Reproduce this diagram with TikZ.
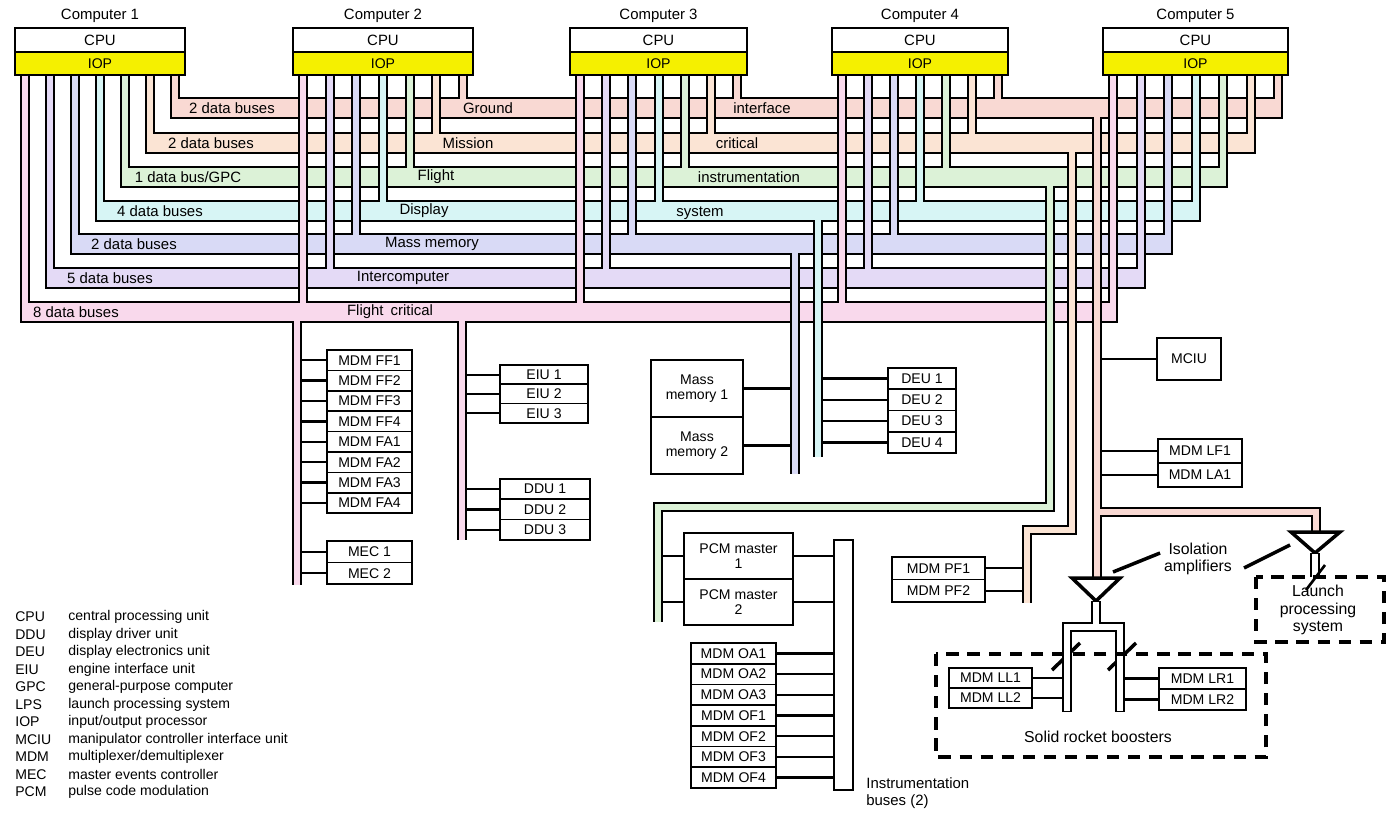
\documentclass[tikz,border=0pt]{standalone}
\usepackage{fontspec}
\setmainfont{Liberation Sans}
\usetikzlibrary{positioning}

\definecolor{busGI}{HTML}{F9D9D3}
\definecolor{busMC}{HTML}{FBE4D4}
\definecolor{busFI}{HTML}{DCF2D7}
\definecolor{busDS}{HTML}{D7F5F5}
\definecolor{busMM}{HTML}{D9DAF6}
\definecolor{busIC}{HTML}{E4DAF6}
\definecolor{busFC}{HTML}{F9D9EC}
\definecolor{iopyellow}{HTML}{F5F000}

\tikzset{
  box/.style={draw, line width=1pt, fill=white, inner sep=0pt, align=center,
    font=\fontsize{8}{8.5}\selectfont},
  lbl/.style={inner sep=1pt, font=\fontsize{8.5}{10}\selectfont},
  lgd/.style={anchor=west, inner sep=0pt, font=\fontsize{8}{9}\selectfont},
  link/.style={line width=1.3pt},
  busline/.style={line width=0.44cm},
  busfill/.style={line width=0.36cm},
  stubline/.style={line width=0.2cm},
  stubfill/.style={line width=0.12cm},
}
\newcommand{\busdrop}[4]{%
  \draw[stubline] (#2,#3+9) #4;
  \draw[stubfill,#1] (#2,#3) #4;}

\begin{document}
\begin{tikzpicture}[x=0.02cm,y=-0.02cm]
  \useasboundingbox (0,0) rectangle (1400,816);
  \def\busy{{108,143,177,211,244,278,312}}

  % computers
  \foreach \n/\l/\r in {1/15/185, 2/293/473, 3/570/747, 4/832/1008, 5/1103/1288}{
    \node[box, minimum width={(\r-\l)*0.02cm}, minimum height=0.48cm,
      font=\fontsize{8.5}{9}\selectfont] (cpu\n) at ({(\l+\r)/2},40) {CPU};
    \node[box, fill=iopyellow, minimum width={(\r-\l)*0.02cm}, minimum height=0.46cm,
      font=\fontsize{8}{9}\selectfont] (iop\n) at ({(\l+\r)/2},63.5) {IOP};
    \node[lbl] (comp\n) at ({(\l+\r)/2},16) {Computer \n};
  }

  % data buses, top to bottom
  \foreach \k/\col in {0/busGI,1/busMC,2/busFI,3/busDS,4/busMM,5/busIC,6/busFC}{
    \pgfmathsetmacro\yy{\busy[\k]}
    \pgfmathsetmacro\ii{6-\k}
    \pgfmathsetmacro\xa{25+\ii*150/6-5}
    \pgfmathsetmacro\xb{1113+\ii*165/6+5}
    \draw[busline] (\xa,\yy) -- (\xb,\yy);
    \foreach \l/\r in {15/185, 293/473, 570/747, 832/1008, 1103/1288}{
      \pgfmathsetmacro\sx{\l+10+\ii*(\r-\l-20)/6}
      \draw[stubline] (\sx,75) -- (\sx,\yy);
    }
    \draw[busfill,\col] (\xa+2,\yy) -- (\xb-2,\yy);
    \foreach \l/\r in {15/185, 293/473, 570/747, 832/1008, 1103/1288}{
      \pgfmathsetmacro\sx{\l+10+\ii*(\r-\l-20)/6}
      \draw[stubfill,\col] (\sx,75.5) -- (\sx,\yy);
    }
  }

  % bus labels
  \node[lbl] (gi1) at (232,108) {2 data buses};
  \node[lbl] (gi2) at (488,108) {Ground};
  \node[lbl] (gi3) at (762,108) {interface};
  \node[lbl] (mc1) at (211,143) {2 data buses};
  \node[lbl] (mc2) at (468,143) {Mission};
  \node[lbl] (mc3) at (737,143) {critical};
  \node[lbl] (fi1) at (188,177) {1 data bus/GPC};
  \node[lbl] (fi2) at (436,177) {Flight};
  \node[lbl] (fi3) at (749,177) {instrumentation};
  \node[lbl] (ds1) at (160,211) {4 data buses};
  \node[lbl] (ds2) at (424,211) {Display};
  \node[lbl] (ds3) at (700,213) {system};
  \node[lbl] (mm1) at (134,244) {2 data buses};
  \node[lbl] (mm2) at (432,244) {Mass memory};
  \node[lbl] (ic1) at (110,278) {5 data buses};
  \node[lbl] (ic2) at (403,278) {Intercomputer};
  \node[lbl] (fc1) at (76,312) {8 data buses};
  \node[lbl] (fc2) at (390,312) {Flight\hspace{4pt}critical};

  % drop points
  \coordinate (fcA) at (297,312);
  \coordinate (fcB) at (462,312);
  \coordinate (mmx) at (795,244);
  \coordinate (dsx) at (818,211);
  \coordinate (fix) at (658,507);
  \coordinate (mcx) at (1027,530);
  \coordinate (gix) at (1097,108);
  \coordinate (legL) at (1067,627);
  \coordinate (legR) at (1120,627);

  % flight critical units
  \foreach \t [count=\j] in {MDM FF1,MDM FF2,MDM FF3,MDM FF4,MDM FA1,MDM FA2,MDM FA3,MDM FA4}{
    \node[box, minimum width=1.7cm, minimum height=0.408cm] (ff\j) at (369.5,{350+10.2+(\j-1)*20.4}) {\t};
    \draw[link] (ff\j.west) -- (ff\j.west -| fcA);
  }
  \foreach \t [count=\j] in {MEC 1,MEC 2}{
    \node[box, minimum width=1.7cm, minimum height=0.43cm] (mec\j) at (369.5,{541+10.75+(\j-1)*21.5}) {\t};
    \draw[link] (mec\j.west) -- (mec\j.west -| fcA);
  }
  \foreach \t [count=\j] in {EIU 1,EIU 2,EIU 3}{
    \node[box, minimum width=1.76cm, minimum height=0.386cm] (eiu\j) at (544,{365+9.65+(\j-1)*19.3}) {\t};
    \draw[link] (eiu\j.west) -- (eiu\j.west -| fcB);
  }
  \foreach \t [count=\j] in {DDU 1,DDU 2,DDU 3}{
    \node[box, minimum width=1.8cm, minimum height=0.406cm] (ddu\j) at (545,{479+10.15+(\j-1)*20.3}) {\t};
    \draw[link] (ddu\j.west) -- (ddu\j.west -| fcB);
  }

  % mass memory and display units
  \foreach \j in {1,2}{
    \node[box, minimum width=1.84cm, minimum height=1.14cm] (mem\j) at (697,{360+28.5+(\j-1)*57}) {Mass\\memory \j};
    \draw[link] (mem\j.east) -- (mem\j.east -| mmx);
  }
  \foreach \j in {1,...,4}{
    \node[box, minimum width=1.36cm, minimum height=0.425cm] (deu\j) at (922,{368+10.6+(\j-1)*21.25}) {DEU \j};
    \draw[link] (deu\j.west) -- (deu\j.west -| dsx);
  }

  % instrumentation
  \node[box, minimum width=0.38cm, minimum height=5cm] (ibus) at (843.5,665) {};
  \node[anchor=north west, align=left, inner sep=0pt, font=\fontsize{8.5}{10}\selectfont]
    (ibuslbl) at (866,777) {Instrumentation\\buses (2)};
  \foreach \j in {1,2}{
    \node[box, minimum width=2.18cm, minimum height=0.92cm] (pcm\j) at (738.5,{533+23+(\j-1)*46}) {PCM master\\\j};
    \draw[link] (pcm\j.west) -- (pcm\j.west -| fix);
    \draw[link] (pcm\j.east) -- (pcm\j.east -| ibus.west);
  }
  \foreach \t [count=\j] in {MDM OA1,MDM OA2,MDM OA3,MDM OF1,MDM OF2,MDM OF3,MDM OF4}{
    \node[box, minimum width=1.7cm, minimum height=0.414cm] (oa\j) at (733.5,{643+10.35+(\j-1)*20.7}) {\t};
    \draw[link] (oa\j.east) -- (oa\j.east -| ibus.west);
  }

  % ground interface units
  \node[box, minimum width=1.28cm, minimum height=0.84cm] (mciu) at (1189,359) {MCIU};
  \draw[link] (mciu.west) -- (mciu.west -| gix);
  \foreach \t [count=\j] in {MDM LF1,MDM LA1}{
    \node[box, minimum width=1.68cm, minimum height=0.48cm] (lf\j) at (1200,{439+12+(\j-1)*24}) {\t};
    \draw[link] (lf\j.west) -- (lf\j.west -| gix);
  }
  \foreach \t [count=\j] in {MDM PF1,MDM PF2}{
    \node[box, minimum width=1.86cm, minimum height=0.45cm] (pf\j) at (938.5,{557+11.25+(\j-1)*22.5}) {\t};
    \draw[link] (pf\j.east) -- (pf\j.east -| mcx);
  }

  % bus drops
  \busdrop{busFC}{297}{312}{-- (297,585)}
  \busdrop{busFC}{462}{312}{-- (462,540)}
  \busdrop{busMM}{795}{244}{-- (795,474)}
  \busdrop{busDS}{818}{211}{-- (818,457)}
  \busdrop{busFI}{1050}{177}{-- (1050,507) -- (658,507) -- (658,622)}
  \busdrop{busMC}{1072}{143}{-- (1072,530) -- (1027,530) -- (1027,603)}
  \busdrop{busGI}{1097}{108}{-- (1097,580)}
  \draw[stubline] (1097,512) -- (1316,512) -- (1316,533);
  \draw[stubfill,busGI] (1097,512) -- (1316,512) -- (1316,533);
  \draw[stubfill,busGI] (1097,505) -- (1097,580);

  % isolation amplifiers
  \coordinate (amp1) at (1096,601);
  \coordinate (amp2) at (1315,553);
  \draw[line width=2pt, fill=white] (1072,578) -- (1120,578) -- (amp1) -- cycle;
  \draw[line width=2pt, fill=white] (1291,532) -- (1340,532) -- (amp2) -- cycle;
  \node[lbl, align=center, font=\fontsize{9}{10}\selectfont] (isolbl) at (1198,559) {Isolation\\amplifiers};
  \draw[line width=2pt] (isolbl.west |- 0,553) ++(-2,0) -- (1113,572);
  \draw[line width=2pt] (1244,568) -- (1290,545);

  % booster buses
  \draw[stubline] (amp1) -- (1096,627);
  \draw[stubline] (1067,712) -- (legL) -- (legR) -- (1120,712);
  \draw[stubfill,white] (1096,602) -- (1096,627);
  \draw[stubfill,white] (1067,711) -- (legL) -- (legR) -- (1120,711);
  \draw[line width=2pt] (1052,670) -- (1080,643);
  \draw[line width=2pt] (1108,670) -- (1136,643);
  \draw[stubline] (amp2) -- (1315,577);
  \draw[stubfill,white] (1315,554) -- (1315,577);
  \draw[line width=1.5pt] (1306,590) -- (1325,565);

  \foreach \t [count=\j] in {MDM LL1,MDM LL2}{
    \node[box, minimum width=1.66cm, minimum height=0.4cm] (ll\j) at (990.5,{668+10+(\j-1)*20}) {\t};
    \draw[link] (ll\j.east) -- (ll\j.east -| legL);
  }
  \foreach \t [count=\j] in {MDM LR1,MDM LR2}{
    \node[box, minimum width=1.74cm, minimum height=0.42cm] (lr\j) at (1202.5,{668+10.5+(\j-1)*21}) {\t};
    \draw[link] (lr\j.west) -- (lr\j.west -| legR);
  }
  \draw[stubfill,white] (1067,640) -- (1067,711) (1120,640) -- (1120,711);
  \draw[line width=1.8pt, dash pattern=on 7pt off 5pt] (936,654) rectangle (1266,757);
  \node[lbl, font=\fontsize{9}{10}\selectfont] (srb) at (1098,737) {Solid rocket boosters};
  \draw[line width=1.8pt, dash pattern=on 7pt off 5pt] (1256,577) rectangle (1384,642);
  \node[lbl, align=center, font=\fontsize{9}{10}\selectfont] (lps) at (1318,610) {Launch\\processing\\system};

  % legend
  \foreach \a/\d [count=\j] in {CPU/central processing unit, DDU/display driver unit,
      DEU/display electronics unit, EIU/engine interface unit, GPC/general-purpose computer,
      LPS/launch processing system, IOP/{input/output processor},
      MCIU/manipulator controller interface unit, MDM/{multiplexer/demultiplexer},
      MEC/master events controller, PCM/pulse code modulation}{
    \node[lgd] (lga\j) at (15,{617+(\j-1)*17.5}) {\a};
    \node[lgd] (lgd\j) at (68,{617+(\j-1)*17.5}) {\d};
  }
\end{tikzpicture}
\end{document}
